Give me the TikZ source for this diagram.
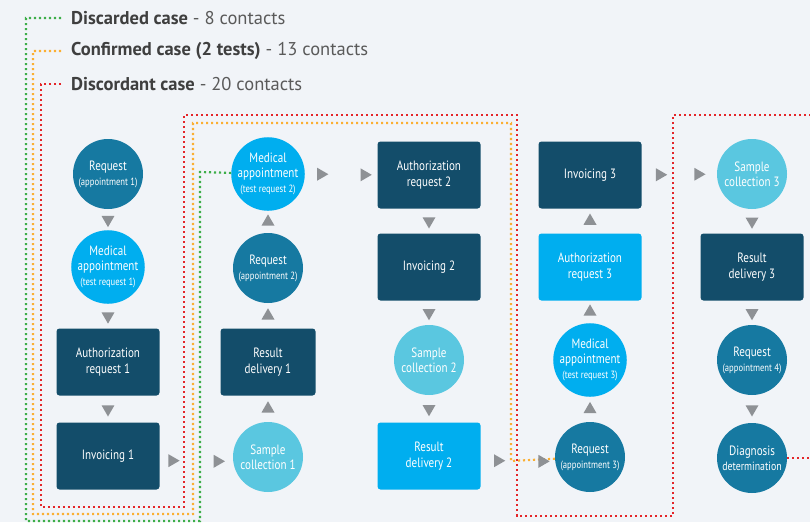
\documentclass[tikz,border=0pt]{standalone}
\usepackage{fontspec}
\setmainfont{PT Sans}
\newfontfamily\cond[FakeStretch=0.82]{PT Sans}
\usetikzlibrary{shapes.geometric,calc}
\definecolor{cBg}{HTML}{F1F4F8}
\definecolor{cTeal}{HTML}{1679A1}
\definecolor{cNavy}{HTML}{134D6A}
\definecolor{cBlue}{HTML}{00AEEF}
\definecolor{cCyan}{HTML}{5AC7E0}
\definecolor{cGray}{HTML}{8E9195}
\definecolor{cGreen}{HTML}{3DAE49}
\definecolor{cOrange}{HTML}{FBAF32}
\definecolor{cRed}{HTML}{E42529}
\definecolor{cText}{HTML}{3F3F3F}
\definecolor{cLight}{HTML}{5A5A5A}
\newcommand\smtxt[1]{{\fontsize{10.5}{13}\selectfont #1}}
\tikzset{
  circ/.style={circle, minimum size=70, inner sep=0, text=white, align=center,
    font=\cond\fontsize{13.5}{15}\selectfont},
  box/.style={rectangle, rounded corners=3, minimum width=103, minimum height=67,
    inner sep=0, text=white, align=center, font=\cond\fontsize{13.5}{16}\selectfont},
  tri/.style={regular polygon, regular polygon sides=3, minimum size=15, inner sep=0, fill=cGray},
  tdown/.style={tri, shape border rotate=180},
  tup/.style={tri},
  tright/.style={tri, shape border rotate=-90},
  dotline/.style={line width=2.2, dash pattern=on 2.2 off 2.8},
  legend/.style={anchor=west, inner sep=0, text=cText, font=\fontsize{18.5}{20}\selectfont},
}
\begin{document}
\begin{tikzpicture}[x=1pt,y=-1pt]
\useasboundingbox (0,0) rectangle (810,522);
\fill[cBg] (0,0) rectangle (810,522);

% legend
\node[legend] (lg1) at (71,18) {\textbf{Discarded case} \textcolor{cLight}{- 8 contacts}};
\node[legend] (lg2) at (71,51) {\textbf{Confirmed case (2 tests)} \textcolor{cLight}{- 13 contacts}};
\node[legend] (lg3) at (71,84) {\textbf{Discordant case} \textcolor{cLight}{- 20 contacts}};

% column 1
\node[circ, fill=cTeal] (r1) at (108,174) {Request\\\smtxt{(appointment 1)}};
\node[circ, fill=cBlue] (m1) at (108,267) {Medical\\appointment\\\smtxt{(test request 1)}};
\node[box, fill=cNavy] (a1) at (108,362) {Authorization\\request 1};
\node[box, fill=cNavy] (i1) at (108,456) {Invoicing 1};
% column 2
\node[circ, fill=cCyan] (s1) at (268,457) {Sample\\collection 1};
\node[box, fill=cNavy, minimum width=95] (d1) at (268,362) {Result\\delivery 1};
\node[circ, fill=cTeal] (r2) at (268,268) {Request\\\smtxt{(appointment 2)}};
\node[circ, fill=cBlue] (m2) at (268,174) {Medical\\appointment\\\smtxt{(test request 2)}};
% column 3
\node[box, fill=cNavy] (a2) at (429,175) {Authorization\\request 2};
\node[box, fill=cNavy] (i2) at (429,267) {Invoicing 2};
\node[circ, fill=cCyan] (s2) at (429,360) {Sample\\collection 2};
\node[box, fill=cBlue] (d2) at (429,456) {Result\\delivery 2};
% column 4
\node[circ, fill=cTeal] (r3) at (590,457) {Request\\\smtxt{(appointment 3)}};
\node[circ, fill=cBlue] (m3) at (590,360) {Medical\\appointment\\\smtxt{(test request 3)}};
\node[box, fill=cBlue] (a3) at (590,267) {Authorization\\request 3};
\node[box, fill=cNavy] (i3) at (590,175) {Invoicing 3};
% column 5
\node[circ, fill=cCyan] (s3) at (752,174) {Sample\\collection 3};
\node[box, fill=cNavy] (d3) at (752,267) {Result\\delivery 3};
\node[circ, fill=cTeal] (r4) at (752,360) {Request\\\smtxt{(appointment 4)}};
\node[circ, fill=cTeal] (dg) at (752,458) {Diagnosis\\{\fontsize{12}{14}\selectfont determination}};

% dotted case paths
\coordinate (redend) at (810,458);
\draw[dotline, cGreen] ([xshift=-10pt]lg1.west) -| (26,521) -- (200,521) -- (200,172) -- (m2);
\draw[dotline, cOrange] ([xshift=-10pt]lg2.west) -| (33,514) -- (193,514) -- (193,123) -- (511,123) -- (511,461) -- (r3);
\draw[dotline, cRed] ([xshift=-10pt]lg3.west) -| (41,507) -- (184,507) -- (184,115) -- (517,115) -- (517,516) -- (673,516) -- (673,115) -- (810,115);
\draw[dotline, cRed] (dg) -- (redend);

% flow markers
\path (r1) -- node[tdown] {} (m1);
\path (m1) -- node[tdown] {} (a1);
\path (a1) -- node[tdown] {} (i1);
\path (i1.east) -- node[tright, pos=0.17, yshift=-4.5] {} node[tright, pos=0.79, yshift=-4.5] {} (s1.west);
\path (s1) -- node[tup] {} (d1);
\path (d1) -- node[tup] {} (r2);
\path (r2) -- node[tup] {} (m2);
\path (m2.east) -- node[tright, pos=0.22] {} node[tright, pos=0.82] {} (a2.west);
\path (a2) -- node[tdown] {} (i2);
\path (i2) -- node[tdown] {} (s2);
\path (s2) -- node[tdown] {} (d2);
\path (d2.east) -- node[tright, pos=0.23, yshift=-4.5] {} node[tright, pos=0.83, yshift=-4.5] {} (r3.west);
\path (r3) -- node[tup] {} (m3);
\path (m3) -- node[tup] {} (a3);
\path (a3) -- node[tup] {} (i3);
\path (i3.east) -- node[tright, pos=0.24] {} node[tright, pos=0.75] {} (s3.west);
\path (s3) -- node[tdown] {} (d3);
\path (d3) -- node[tdown] {} (r4);
\path (r4) -- node[tdown] {} (dg);
\end{tikzpicture}
\end{document}
